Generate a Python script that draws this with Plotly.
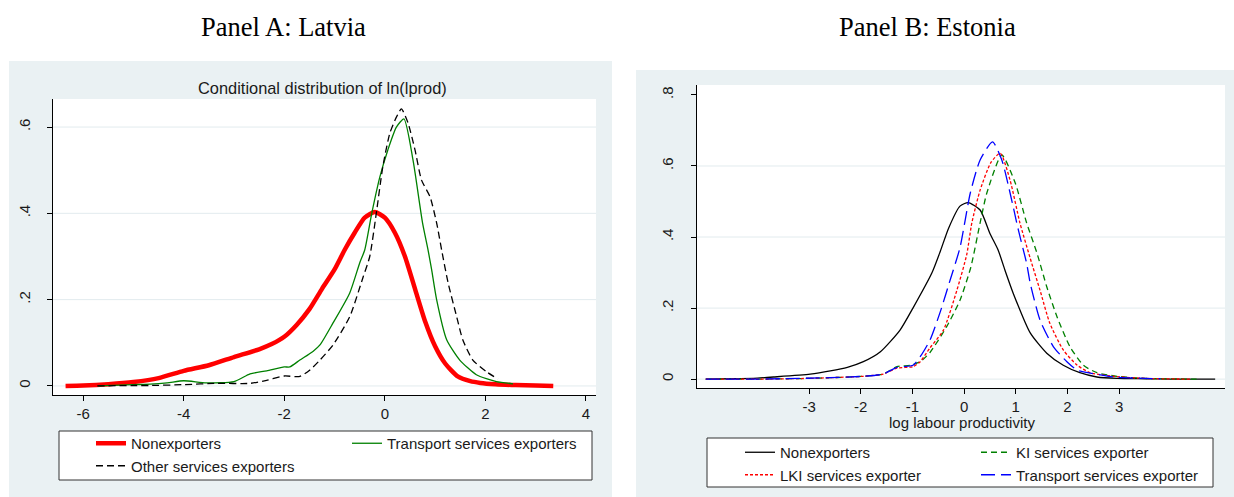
import plotly.graph_objects as go

W, H = 1234, 497

# ---------------- Panel A: Latvia ----------------
lv_non_x = [-6.35, -6.0, -5.5, -5.0, -4.5, -4.0, -3.5, -3.0, -2.5, -2.25, -2.0, -1.75, -1.5, -1.25, -1.0, -0.8, -0.6,
            -0.4, -0.2, 0.0, 0.2, 0.4, 0.6, 0.8, 1.0, 1.2, 1.45, 1.7, 1.9, 2.2, 2.6, 3.0, 3.35]
lv_non_y = [0.0, 0.001, 0.004, 0.009, 0.018, 0.035, 0.048, 0.067, 0.085, 0.097, 0.114, 0.142, 0.178, 0.225, 0.27, 0.315, 0.355,
            0.39, 0.403, 0.39, 0.355, 0.3, 0.225, 0.15, 0.092, 0.052, 0.022, 0.011, 0.007, 0.004, 0.002, 0.001, 0.0]

lv_trn_x = [-5.7, -5.0, -4.67, -4.33, -4.0, -3.55, -3.0, -2.68, -2.35, -2.0, -1.89, -1.69, -1.43, -1.29, -1.03,
            -0.7, -0.5, -0.4, -0.26, -0.1, 0.06, 0.23, 0.38, 0.56, 0.75, 0.86, 0.93, 1.03, 1.23, 1.49, 1.82, 2.22, 2.55]
lv_trn_y = [0.0, 0.003, 0.004, 0.007, 0.012, 0.007, 0.01, 0.028, 0.035, 0.044, 0.044, 0.06, 0.08, 0.095, 0.146,
            0.215, 0.285, 0.315, 0.40, 0.484, 0.547, 0.60, 0.619, 0.524, 0.378, 0.315, 0.27, 0.2, 0.107, 0.06, 0.026, 0.01, 0.005]

lv_oth_x = [-5.72, -5.0, -4.67, -4.0, -3.34, -2.68, -2.35, -2.0, -1.69, -1.49, -1.29, -1.03, -0.7, -0.43, -0.3,
            -0.17, -0.04, 0.1, 0.23, 0.33, 0.46, 0.6, 0.73, 0.9, 1.03, 1.13, 1.26, 1.43, 1.55, 1.75, 2.02, 2.25]
lv_oth_y = [0.0, 0.001, 0.001, 0.003, 0.006, 0.006, 0.013, 0.023, 0.022, 0.037, 0.06, 0.095, 0.16, 0.253, 0.30,
            0.40, 0.508, 0.586, 0.623, 0.642, 0.61, 0.547, 0.477, 0.438, 0.378, 0.315, 0.238, 0.16, 0.107, 0.06, 0.033, 0.016]

lv_xticks = [-6, -4, -2, 0, 2, 4]
lv_xticktext = ["-6", "-4", "-2", "0", "2", "4"]
lv_yticks = [0, 0.2, 0.4, 0.6]
lv_yticktext = ["0", ".2", ".4", ".6"]

# ---------------- Panel B: Estonia ----------------
ee_non_x = [-5.0, -4.5, -4.0, -3.69, -2.98, -2.59, -2.26, -1.95, -1.62, -1.24, -0.99, -0.62, -0.46, -0.3, -0.08,
            0.08, 0.31, 0.5, 0.66, 0.79, 0.95, 1.28, 1.6, 1.92, 2.24, 2.57, 2.96, 3.5, 4.0, 4.86]
ee_non_y = [0.0, 0.001, 0.003, 0.006, 0.014, 0.023, 0.033, 0.049, 0.077, 0.138, 0.2, 0.30, 0.36, 0.425, 0.487,
            0.497, 0.476, 0.41, 0.363, 0.307, 0.242, 0.13, 0.073, 0.039, 0.018, 0.006, 0.002, 0.001, 0.0, 0.0]

ee_ki_x = [-5.0, -4.0, -3.0, -2.59, -1.95, -1.57, -1.3, -1.04, -0.85, -0.66, -0.34, -0.08, 0.13, 0.31, 0.44,
           0.73, 0.99, 1.21, 1.41, 1.6, 1.8, 2.05, 2.31, 2.57, 2.96, 3.5, 4.5]
ee_ki_y = [0.0, 0.0, 0.002, 0.004, 0.008, 0.014, 0.035, 0.039, 0.049, 0.075, 0.147, 0.222, 0.315, 0.44, 0.524,
           0.631, 0.552, 0.44, 0.355, 0.26, 0.175, 0.091, 0.039, 0.018, 0.008, 0.002, 0.0]

ee_lki_x = [-5.0, -4.0, -3.0, -2.59, -1.95, -1.57, -1.3, -0.99, -0.85, -0.66, -0.4, -0.14, 0.05, 0.15, 0.31,
            0.52, 0.7, 0.89, 1.08, 1.28, 1.47, 1.66, 1.92, 2.19, 2.44, 2.89, 3.5, 4.37]
ee_lki_y = [0.0, 0.0, 0.002, 0.004, 0.008, 0.014, 0.031, 0.035, 0.049, 0.088, 0.138, 0.25, 0.35, 0.44, 0.532,
            0.61, 0.636, 0.56, 0.44, 0.34, 0.25, 0.157, 0.082, 0.039, 0.018, 0.008, 0.002, 0.0]

ee_trn_x = [-5.0, -4.0, -3.56, -2.59, -1.95, -1.57, -1.3, -0.99, -0.85, -0.66, -0.46, -0.27, -0.08, 0.12, 0.31,
            0.55, 0.73, 0.89, 1.05, 1.21, 1.28, 1.47, 1.73, 1.99, 2.19, 2.44, 2.89, 3.5, 3.8]
ee_trn_y = [0.0, 0.0, 0.001, 0.004, 0.008, 0.014, 0.033, 0.039, 0.063, 0.11, 0.19, 0.279, 0.37, 0.524, 0.617,
            0.668, 0.617, 0.524, 0.42, 0.326, 0.27, 0.166, 0.091, 0.049, 0.025, 0.017, 0.006, 0.002, 0.001]

ee_xticks = [-3, -2, -1, 0, 1, 2, 3]
ee_xticktext = ["-3", "-2", "-1", "0", "1", "2", "3"]
ee_yticks = [0, 0.2, 0.4, 0.6, 0.8]
ee_yticktext = ["0", ".2", ".4", ".6", ".8"]
ee_grid = [0, 0.2, 0.4, 0.6]

# ---------------- helpers ----------------
def px(x):
    return x / W

def py(y):
    return 1 - y / H

SANS = "Arial, Liberation Sans, sans-serif"
SERIF = "Times New Roman, Liberation Serif, serif"
TXT = "#1a1a1a"
PANEL_BG = "#eaf1f3"
GRID = "#e2ebee"

A_dom_x = [px(53), px(596)]
A_dom_y = [py(395), py(99)]
B_dom_x = [px(697), px(1225)]
B_dom_y = [py(388), py(85)]

fig = go.Figure()

def sp(x, y, name, color, width, dash, xa, ya, legend):
    return go.Scatter(x=x, y=y, name=name, mode="lines",
                      line=dict(color=color, width=width, dash=dash, shape="spline", smoothing=0.6),
                      xaxis=xa, yaxis=ya, legend=legend, hoverinfo="skip")

fig.add_trace(sp(lv_non_x, lv_non_y, "Nonexporters", "#ff0000", 4.5, "solid", "x", "y", "legend"))
fig.add_trace(sp(lv_trn_x, lv_trn_y, "Transport services exporters", "#008000", 1.3, "solid", "x", "y", "legend2"))
fig.add_trace(sp(lv_oth_x, lv_oth_y, "Other services exporters", "#000000", 1.3, "7px,4px", "x", "y", "legend"))

fig.add_trace(sp(ee_non_x, ee_non_y, "Nonexporters", "#000000", 1.3, "solid", "x2", "y2", "legend3"))
fig.add_trace(sp(ee_ki_x, ee_ki_y, "KI services exporter", "#008000", 1.3, "6px,4px", "x2", "y2", "legend4"))
fig.add_trace(sp(ee_lki_x, ee_lki_y, "LKI services exporter", "#ff0000", 1.3, "3px,2px", "x2", "y2", "legend3"))
fig.add_trace(sp(ee_trn_x, ee_trn_y, "Transport services exporter", "#0000ff", 1.3, "14px,6px", "x2", "y2", "legend4"))

axis_common = dict(showline=True, linecolor="black", linewidth=1, ticks="outside", ticklen=5,
                   tickcolor="black", tickwidth=1, showgrid=False, zeroline=False,
                   tickfont=dict(family=SANS, size=15, color=TXT), fixedrange=True)

fig.update_layout(
    width=W, height=H, margin=dict(l=0, r=0, t=0, b=0),
    paper_bgcolor="white", plot_bgcolor="rgba(0,0,0,0)",
    xaxis=dict(domain=A_dom_x, range=[-6.6, 4.2], tickvals=lv_xticks, ticktext=lv_xticktext, anchor="y", **axis_common),
    yaxis=dict(domain=A_dom_y, range=[-0.021, 0.665], tickvals=lv_yticks, ticktext=lv_yticktext,
               tickangle=-90, anchor="x", ticklabelstandoff=11, **axis_common),
    xaxis2=dict(domain=B_dom_x, range=[-5.17, 5.05], tickvals=ee_xticks, ticktext=ee_xticktext, anchor="y2", **axis_common),
    yaxis2=dict(domain=B_dom_y, range=[-0.025, 0.828], tickvals=ee_yticks, ticktext=ee_yticktext,
                tickangle=-90, anchor="x2", ticklabelstandoff=12, **axis_common),
    showlegend=True,
)

leg_common = dict(orientation="v", xanchor="left", yanchor="top", bgcolor="rgba(0,0,0,0)",
                  borderwidth=0, font=dict(family=SANS, size=15, color=TXT), tracegroupgap=0)
fig.update_layout(
    legend=dict(x=px(91), y=py(427), **leg_common),
    legend2=dict(x=px(347), y=py(427), **leg_common),
    legend3=dict(x=px(740), y=py(436), **leg_common),
    legend4=dict(x=px(976), y=py(436), **leg_common),
)

shapes = []
# panel backgrounds
shapes.append(dict(type="rect", xref="paper", yref="paper", x0=px(9), x1=px(612), y0=py(497), y1=py(61),
                   fillcolor=PANEL_BG, line=dict(width=0), layer="below"))
shapes.append(dict(type="rect", xref="paper", yref="paper", x0=px(636), x1=px(1234), y0=py(497), y1=py(70),
                   fillcolor=PANEL_BG, line=dict(width=0), layer="below"))
# white plot regions
shapes.append(dict(type="rect", xref="paper", yref="paper", x0=A_dom_x[0], x1=A_dom_x[1], y0=A_dom_y[0], y1=A_dom_y[1],
                   fillcolor="white", line=dict(width=0), layer="below"))
shapes.append(dict(type="rect", xref="paper", yref="paper", x0=B_dom_x[0], x1=B_dom_x[1], y0=B_dom_y[0], y1=B_dom_y[1],
                   fillcolor="white", line=dict(width=0), layer="below"))
# legend boxes
shapes.append(dict(type="rect", xref="paper", yref="paper", x0=px(59), x1=px(592), y0=py(480), y1=py(431),
                   fillcolor="white", line=dict(color="#333333", width=1), layer="below"))
shapes.append(dict(type="rect", xref="paper", yref="paper", x0=px(707), x1=px(1213), y0=py(487), y1=py(438),
                   fillcolor="white", line=dict(color="#333333", width=1), layer="below"))
# gridlines
for v in lv_yticks:
    shapes.append(dict(type="line", xref="x domain", yref="y", x0=0, x1=1, y0=v, y1=v,
                       line=dict(color=GRID, width=1), layer="below"))
for v in ee_grid:
    shapes.append(dict(type="line", xref="x2 domain", yref="y2", x0=0, x1=1, y0=v, y1=v,
                       line=dict(color=GRID, width=1), layer="below"))
fig.update_layout(shapes=shapes)

annotations = [
    dict(text="Panel A: Latvia", x=px(283), y=py(27), xref="paper", yref="paper", showarrow=False,
         xanchor="center", yanchor="middle", font=dict(family=SERIF, size=26.5, color="black")),
    dict(text="Panel B: Estonia", x=px(927), y=py(27), xref="paper", yref="paper", showarrow=False,
         xanchor="center", yanchor="middle", font=dict(family=SERIF, size=26.5, color="black")),
    dict(text="Conditional distribution of ln(lprod)", x=px(322), y=py(88), xref="paper", yref="paper",
         showarrow=False, xanchor="center", yanchor="middle", font=dict(family=SANS, size=16.4, color=TXT)),
    dict(text="log labour productivity", x=px(962), y=py(422), xref="paper", yref="paper",
         showarrow=False, xanchor="center", yanchor="middle", font=dict(family=SANS, size=15, color=TXT)),
]
fig.update_layout(annotations=annotations)

fig.write_html("out.html", config={"displayModeBar": False},
               post_script="document.body.style.margin='0px';document.body.style.overflow='hidden';")
